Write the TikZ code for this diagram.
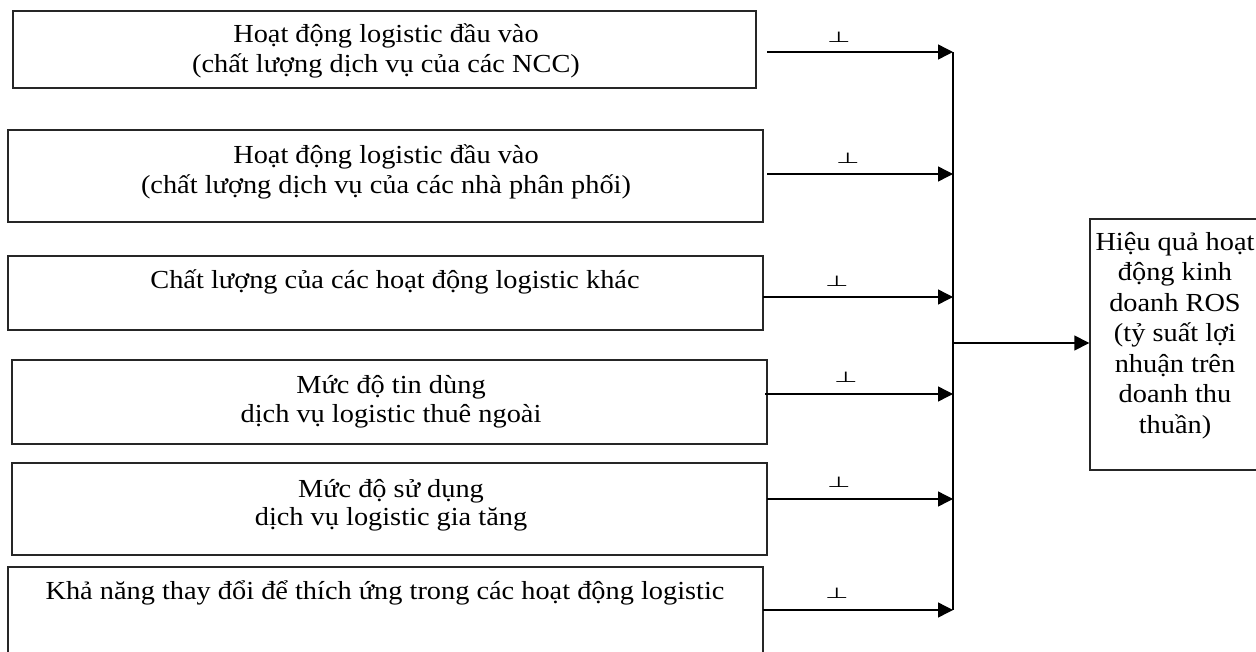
\documentclass[tikz,border=0pt]{standalone}
\usepackage{fontspec}
\setmainfont[FakeStretch=1.09]{Liberation Serif}
\newfontfamily\symfont{DejaVu Sans}
\usetikzlibrary{arrows.meta}
\begin{document}
\begin{tikzpicture}[x=1pt,y=-1pt,
  box/.style={draw=black!85,line width=1.4pt,inner sep=0pt},
  lbl/.style={anchor=base,inner sep=0pt,font=\fontsize{26}{30}\selectfont},
  sign/.style={anchor=base,inner sep=0pt,font=\symfont\fontsize{27}{27}\selectfont},
  link/.style={line width=1.4pt,-{Triangle[length=15pt,width=15pt]}},
  bus/.style={line width=1.4pt}]
\useasboundingbox (0,0) rectangle (1256,651);
\begin{scope}
\clip (0,0) rectangle (1256,651);
% factor boxes
\node[box,minimum width=743pt,minimum height=77pt] (b1) at (384.5,49.5) {};
\node[box,minimum width=755pt,minimum height=92pt] (b2) at (385.5,176) {};
\node[box,minimum width=755pt,minimum height=74pt] (b3) at (385.5,293) {};
\node[box,minimum width=755pt,minimum height=84pt] (b4) at (389.5,402) {};
\node[box,minimum width=755pt,minimum height=92pt] (b5) at (389.5,509) {};
\node[box,minimum width=755pt,minimum height=100pt] (b6) at (385.5,617) {};
% outcome box
\node[box,minimum width=172pt,minimum height=251pt] (out) at (1176,344.5) {};
\end{scope}
% box texts
\node[lbl] (t1a) at (386,42) {Hoạt động logistic đầu vào};
\node[lbl] (t1b) at (386,72) {(chất lượng dịch vụ của các NCC)};
\node[lbl] (t2a) at (386,163) {Hoạt động logistic đầu vào};
\node[lbl] (t2b) at (386,193) {(chất lượng dịch vụ của các nhà phân phối)};
\node[lbl] (t3a) at (395,288) {Chất lượng của các hoạt động logistic khác};
\node[lbl] (t4a) at (391,393) {Mức độ tin dùng};
\node[lbl] (t4b) at (391,422) {dịch vụ logistic thuê ngoài};
\node[lbl] (t5a) at (391,497) {Mức độ sử dụng};
\node[lbl] (t5b) at (391,525) {dịch vụ logistic gia tăng};
\node[lbl] (t6a) at (385,599) {Khả năng thay đổi để thích ứng trong các hoạt động logistic};
% outcome text
\node[lbl] (o1) at (1175,250) {Hiệu quả hoạt};
\node[lbl] (o2) at (1175,280.5) {động kinh};
\node[lbl] (o3) at (1175,311) {doanh ROS};
\node[lbl] (o4) at (1175,341.5) {(tỷ suất lợi};
\node[lbl] (o5) at (1175,372) {nhuận trên};
\node[lbl] (o6) at (1175,402.5) {doanh thu};
\node[lbl] (o7) at (1175,433) {thuần)};
% arrow start points and junctions on the collecting line
\coordinate (s1) at (767,52);  \coordinate (j1) at (953,52);
\coordinate (s2) at (767,174); \coordinate (j2) at (953,174);
\coordinate (s3) at (763,297); \coordinate (j3) at (953,297);
\coordinate (s4) at (765,394); \coordinate (j4) at (953,394);
\coordinate (s5) at (767,499); \coordinate (j5) at (953,499);
\coordinate (s6) at (763,610); \coordinate (j6) at (953,610);
\coordinate (jo) at (953,343);
\foreach \i in {1,...,6} \draw[link] (s\i) -- (j\i);
\draw[bus] (j1) -- (j6);
\draw[link] (jo) -- (out.west |- jo);
% signs above the arrows
\node[sign] (p1) at (839,42) {\scalebox{1}[0.55]{⊥}};
\node[sign] (p2) at (848,163) {\scalebox{1}[0.55]{⊥}};
\node[sign] (p3) at (837,286) {\scalebox{1}[0.55]{⊥}};
\node[sign] (p4) at (846,382) {\scalebox{1}[0.55]{⊥}};
\node[sign] (p5) at (839,487) {\scalebox{1}[0.55]{⊥}};
\node[sign] (p6) at (837,598) {\scalebox{1}[0.55]{⊥}};
\end{tikzpicture}
\end{document}
